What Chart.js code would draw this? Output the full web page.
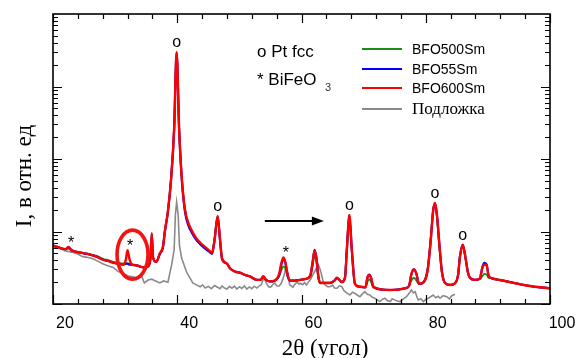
<!DOCTYPE html>
<html>
<head>
<meta charset="utf-8">
<script src="https://cdn.jsdelivr.net/npm/chart.js@4.4.1/dist/chart.umd.min.js"></script>
<style>
  html, body { margin: 0; padding: 0; background: #fff; }
  canvas { display: block; }
</style>
</head>
<body>
<canvas id="xrd" width="576" height="358"></canvas>
<script>
// 2θ для плёнок (общая сетка для трёх образцов)
const filmTheta = [
  20.0, 21.0, 22.0, 22.5, 23.0, 24.0, 25.0, 26.0, 27.0, 28.0,
  29.0, 29.7, 30.5, 31.3, 31.7, 32.0, 32.3, 32.7, 33.5, 34.5,
  35.3, 35.7, 35.9, 36.1, 36.6, 37.2, 37.7, 38.0, 38.5, 39.0,
  39.5, 39.9, 40.3, 40.75, 41.25, 41.8, 42.3, 43.0, 43.7, 44.5,
  45.2, 45.6, 46.0, 46.5, 46.9, 47.2, 48.0, 48.5, 49.3, 50.1,
  51.0, 51.7, 52.8, 53.4, 53.85, 54.3, 54.9, 55.7, 56.4, 56.8,
  57.1, 57.4, 57.8, 58.2, 59.0, 59.8, 60.5, 61.4, 61.8, 62.1,
  62.4, 62.7, 63.0, 64.0, 64.6, 65.3, 65.7, 66.1, 66.5, 67.0,
  67.3, 67.7, 68.1, 68.6, 69.4, 70.3, 70.6, 70.9, 71.2, 71.5,
  71.8, 73.0, 74.3, 75.5, 76.7, 77.3, 77.7, 78.1, 78.5, 78.9,
  79.5, 80.3, 80.8, 81.2, 81.5, 81.8, 82.2, 82.6, 83.1, 83.9,
  84.7, 85.2, 85.5, 85.95, 86.4, 86.8, 87.1, 87.9, 88.7, 89.1,
  89.4, 89.8, 90.1, 90.3, 92.0, 93.6, 95.2, 96.8, 98.4, 100.0
];

const bfo600 = [
  64, 60, 57, 61, 55, 52, 50, 48, 45, 41,
  39, 37, 36, 35, 40, 55, 42, 35, 34, 32,
  33, 44, 95, 44, 38, 50, 62, 100, 190, 520,
  2600, 29900, 2600, 520, 200, 130, 105, 82, 70, 61,
  54, 51, 76, 164, 76, 43, 36, 31, 28, 27,
  25, 24, 21.5, 21.5, 24, 21.5, 20.5, 21, 26, 38,
  44, 38, 24.5, 21, 21, 21.5, 22, 24.5, 38, 54,
  43, 24.5, 19.5, 19.5, 19.5, 21, 23, 21.5, 20, 23,
  56, 169, 56, 19, 17.3, 17, 23, 25, 23, 17.7,
  16.8, 15.8, 15.6, 15.8, 16.5, 17.7, 26, 30, 26, 19,
  19.5, 29, 76, 198, 247, 169, 65, 28, 19.5, 18.3,
  19.3, 25, 44, 65, 43, 27, 23, 21.5, 22.4, 31,
  35, 34, 24.5, 23.3, 21.4, 20, 18.7, 17.7, 17, 16.5
];

const bfo55 = [
  64, 60, 57, 60, 55, 52, 50, 48, 45, 41,
  39, 37, 36, 35, 36, 36, 35, 35, 34, 32,
  33, 44, 92, 44, 38, 49, 60, 98, 190, 520,
  2600, 29500, 2600, 500, 185, 120, 98, 78, 67, 58,
  52, 49, 75, 162, 74, 42, 36, 31, 28, 27,
  25, 24, 21.5, 21.5, 24, 21.5, 20.5, 21, 25, 36,
  42, 37, 24, 21, 21, 21.5, 22, 24.5, 38, 56,
  44, 24.5, 19.5, 19.5, 19.5, 21, 23, 21.5, 20, 23,
  56, 165, 56, 19, 17.3, 17, 23, 25.5, 23, 17.7,
  16.8, 15.8, 15.6, 15.8, 16.5, 17.7, 26, 30, 26, 19,
  19.5, 29, 74, 195, 245, 170, 66, 28, 19.5, 18.3,
  19.3, 25, 45, 66, 44, 27, 23, 21.5, 22.4, 32,
  37, 35, 25, 23.3, 21.4, 20, 18.7, 17.7, 17, 16.5
];

const bfo500 = [
  63, 60, 57, 58, 55, 52, 50, 48, 46, 42,
  40, 38, 37, 36, 36, 36, 36, 35, 34, 32,
  33, 44, 90, 44, 38, 50, 62, 100, 190, 520,
  2600, 29000, 2600, 520, 200, 128, 103, 80, 69, 60,
  54, 52, 80, 160, 72, 43, 36, 31, 28, 27,
  25, 24, 21.5, 21.5, 23.5, 21.5, 20.5, 21, 24, 30,
  33, 31, 23, 21, 21, 21.5, 22, 23.5, 34, 47,
  38, 23, 19.5, 19.5, 19.5, 21, 22.5, 21.5, 20, 24,
  60, 165, 52, 19, 17.3, 17, 20, 22, 20, 17.5,
  16.8, 15.8, 15.6, 15.8, 16.5, 17.7, 21, 23, 21, 19,
  19.5, 31, 82, 200, 240, 160, 60, 27, 19.5, 18.3,
  19.3, 25, 44, 63, 42, 27, 23, 21.5, 22, 24,
  26, 25.5, 23, 23, 21.4, 20, 18.7, 17.7, 17, 16.5
];

// подложка
const substrateTheta = [
  20.0, 21.0, 22.0, 23.0, 24.0, 24.8, 25.5, 26.4, 27.2, 28.0,
  28.9, 29.7, 30.5, 31.3, 32.1, 32.9, 33.6, 34.2, 34.7, 35.3,
  35.9, 36.5, 37.2, 37.8, 38.5, 39.1, 39.5, 39.7, 39.9, 40.15,
  40.35, 40.7, 41.5, 42.5, 43.0, 43.7, 44.1, 44.5, 45.0, 45.5,
  46.0, 46.5, 46.9, 47.2, 47.6, 48.0, 48.4, 48.8, 49.2, 49.6,
  50.0, 50.4, 50.8, 51.2, 51.6, 52.0, 52.4, 52.8, 53.2, 53.5,
  53.95, 54.4, 54.7, 55.0, 55.4, 55.7, 56.0, 56.4, 56.7, 57.0,
  57.3, 57.5, 57.75, 58.1, 58.4, 58.6, 59.0, 59.3, 59.6, 59.8,
  60.2, 60.5, 60.8, 61.2, 61.5, 61.8, 62.3, 62.7, 63.0, 63.25,
  63.5, 63.8, 64.2, 64.6, 65.0, 65.3, 65.7, 66.1, 66.5, 66.8,
  67.0, 67.4, 67.8, 68.2, 68.6, 69.0, 69.4, 69.8, 70.2, 70.6,
  71.0, 71.4, 71.8, 72.2, 72.6, 73.0, 73.4, 73.8, 74.3, 74.6,
  75.0, 75.4, 75.9, 76.4, 76.9, 77.3, 77.7, 78.0, 78.3, 78.6,
  78.8, 79.2, 79.6, 80.0, 80.4, 80.8, 81.2, 81.6, 82.0, 82.3,
  82.8, 83.4, 83.8, 84.2, 84.7
];

const substrate = [
  63, 59, 54, 52, 49, 45, 44, 42, 39, 36,
  33.4, 32, 28, 26.5, 24.3, 23.8, 22.8, 25, 19.5, 21.4,
  22, 20.8, 19.5, 20.8, 20, 35, 56, 169, 255, 169,
  65, 43, 27.6, 19.5, 18.5, 17.3, 18.3, 16.6, 17.5, 16.3,
  18, 17, 16.3, 17.8, 16.6, 16.1, 17.5, 16.5, 17.6, 16.1,
  17.3, 16.4, 17.8, 16.1, 17.2, 16.3, 17.6, 16.6, 17.8, 18.3,
  23, 18.9, 17.3, 17, 18.6, 19.5, 17.8, 17.7, 19, 22,
  27, 32, 27.6, 18.3, 17.6, 17, 19, 20, 18.8, 19.3,
  18.5, 19.8, 18.3, 20.5, 22, 25, 30, 35, 30, 25,
  20, 18.3, 17.3, 17.3, 18.2, 16.6, 16.5, 17.8, 17.3, 15.5,
  14.8, 14.0, 13.3, 14.5, 14, 13.2, 12.6, 13.8, 14.8, 13.6,
  13.3, 12.4, 12, 11.4, 10.8, 11.6, 12, 11.2, 10.8, 11.8,
  11.4, 11.0, 10.8, 11.8, 12.6, 14, 15.6, 14.2, 14.8, 12.4,
  11.4, 11.8, 10.8, 11.6, 12, 12.6, 13.3, 12.2, 12.8, 12,
  13, 12.6, 11.8, 13, 13.6
];

// подписи
const legendLabels = ["BFO500Sm", "BFO55Sm", "BFO600Sm", "Подложка"];
const ptPeaks = [39.9, 46.5, 67.7, 81.5, 85.95];     // o Pt fcc
const bfoPeaks = [22.5, 32.0, 57.1];                   // * BiFeO3
const xTicks = [20, 40, 60, 80, 100];

const toPoints = (xs, ys) => xs.map((x, i) => ({ x: x, y: ys[i] }));

const SANS = '"Liberation Sans", Arial, sans-serif';
const SERIF = '"Liberation Serif", "Times New Roman", serif';

// рамка и засечки внутрь
const framePlugin = {
  id: "frame",
  afterDraw(chart) {
    const { ctx, chartArea: a, scales } = chart;
    const x = scales.x, y = scales.y;
    ctx.save();
    ctx.strokeStyle = "#000";
    ctx.lineWidth = 1.6;
    ctx.strokeRect(a.left, a.top, a.right - a.left, a.bottom - a.top);
    ctx.lineWidth = 1.2;
    ctx.beginPath();
    for (let t = 20; t <= 100; t += 4) {
      const px = Math.round(x.getPixelForValue(t)) + 0.5;
      const len = t % 20 === 0 ? 9 : 5;
      ctx.moveTo(px, a.bottom); ctx.lineTo(px, a.bottom - len);
      ctx.moveTo(px, a.top); ctx.lineTo(px, a.top + len);
    }
    for (let d = 10; d < 1e5; d *= 10) {
      for (let k = 1; k <= 9; k++) {
        const py = Math.round(y.getPixelForValue(d * k)) + 0.5;
        const len = k === 1 ? 9 : 5;
        ctx.moveTo(a.left, py); ctx.lineTo(a.left + len, py);
        ctx.moveTo(a.right, py); ctx.lineTo(a.right - len, py);
      }
    }
    ctx.stroke();
    ctx.restore();
  }
};

// пик красной кривой около заданного угла
function peakPixel(chart, theta) {
  let best = 0;
  filmTheta.forEach((t, i) => {
    if (Math.abs(t - theta) <= 0.6) best = Math.max(best, bfo600[i]);
  });
  return chart.scales.y.getPixelForValue(best);
}

const notesPlugin = {
  id: "notes",
  afterDatasetsDraw(chart) {
    const { ctx, scales } = chart;
    const x = scales.x, y = scales.y;
    ctx.save();
    ctx.fillStyle = "#000";
    ctx.textAlign = "center";
    ctx.textBaseline = "alphabetic";

    // маркеры пиков
    ctx.font = "16px " + SANS;
    ptPeaks.forEach(t => ctx.fillText("o", x.getPixelForValue(t), peakPixel(chart, t) - 5));
    bfoPeaks.forEach(t => ctx.fillText("*", x.getPixelForValue(t + 0.4), peakPixel(chart, t) + 1));

    // красный овал вокруг пика BiFeO3
    ctx.strokeStyle = "#f01414";
    ctx.lineWidth = 3.6;
    ctx.beginPath();
    ctx.ellipse(x.getPixelForValue(32.8), y.getPixelForValue(48), 15.5, 24.5, 0, 0, Math.PI * 2);
    ctx.stroke();

    // стрелка
    const ax0 = x.getPixelForValue(54.1), ax1 = x.getPixelForValue(63.6), ay = y.getPixelForValue(140);
    ctx.strokeStyle = "#000";
    ctx.lineWidth = 2;
    ctx.beginPath();
    ctx.moveTo(ax0, ay); ctx.lineTo(ax1 - 10, ay);
    ctx.stroke();
    ctx.beginPath();
    ctx.moveTo(ax1, ay); ctx.lineTo(ax1 - 12, ay - 4.5); ctx.lineTo(ax1 - 12, ay + 4.5);
    ctx.closePath();
    ctx.fill();

    // обозначения
    ctx.textAlign = "left";
    ctx.font = "17px " + SANS;
    ctx.fillText("o Pt fcc", 257, 57);
    ctx.fillText("* BiFeO", 257, 85);
    ctx.font = "11px " + SANS;
    ctx.fillStyle = "#333";
    ctx.fillText("3", 325, 91);

    // легенда
    const ds = chart.data.datasets;
    const rows = [49, 69, 88, 109];
    legendLabels.forEach((lab, i) => {
      const d = ds.find(s => s.label === lab);
      ctx.strokeStyle = d.borderColor;
      ctx.lineWidth = 2;
      ctx.beginPath();
      ctx.moveTo(362, rows[i]); ctx.lineTo(402, rows[i]);
      ctx.stroke();
      ctx.fillStyle = "#000";
      ctx.textBaseline = "middle";
      ctx.font = i === 3 ? "17px " + SERIF : "14px " + SANS;
      ctx.fillText(lab, 412, rows[i] + 1);
    });

    // подписи осей
    ctx.textAlign = "center";
    ctx.textBaseline = "alphabetic";
    ctx.font = "23px " + SERIF;
    ctx.fillText("2θ (угол)", 325, 355);

    ctx.translate(31, 176);
    ctx.rotate(-Math.PI / 2);
    ctx.font = "23px " + SERIF;
    ctx.fillText("I, в отн. ед", 0, 0);
    ctx.restore();
  }
};

new Chart(document.getElementById("xrd").getContext("2d"), {
  type: "line",
  data: {
    datasets: [
      {
        label: "BFO600Sm",
        data: toPoints(filmTheta, bfo600),
        borderColor: "#ff0000",
        borderWidth: 2.4,
        cubicInterpolationMode: "monotone",
      },
      {
        label: "BFO55Sm",
        data: toPoints(filmTheta, bfo55),
        borderColor: "#0000ff",
        borderWidth: 2.2,
        cubicInterpolationMode: "monotone",
      },
      {
        label: "BFO500Sm",
        data: toPoints(filmTheta, bfo500),
        borderColor: "#1a8c1a",
        borderWidth: 1.8,
        cubicInterpolationMode: "monotone",
      },
      {
        label: "Подложка",
        data: toPoints(substrateTheta, substrate),
        borderColor: "#8a8a8a",
        borderWidth: 1.6,
        tension: 0,
      },
    ],
  },
  options: {
    responsive: false,
    animation: false,
    elements: { point: { radius: 0 } },
    layout: { padding: { left: 53, right: 26, top: 14, bottom: 0 } },
    plugins: { legend: { display: false }, tooltip: { enabled: false } },
    scales: {
      x: {
        type: "linear",
        min: 20,
        max: 100,
        afterBuildTicks: (s) => { s.ticks = xTicks.map(v => ({ value: v })); },
        afterFit: (s) => { s.height = 54; },
        grid: { display: false, drawTicks: false },
        border: { display: false },
        ticks: {
          color: "#000",
          font: { family: SANS, size: 16 },
          labelOffset: 12,
          padding: 10,
          maxRotation: 0,
        },
      },
      y: {
        type: "logarithmic",
        display: false,
        min: 10,
        max: 100000,
      },
    },
  },
  plugins: [framePlugin, notesPlugin],
});
</script>
</body>
</html>
